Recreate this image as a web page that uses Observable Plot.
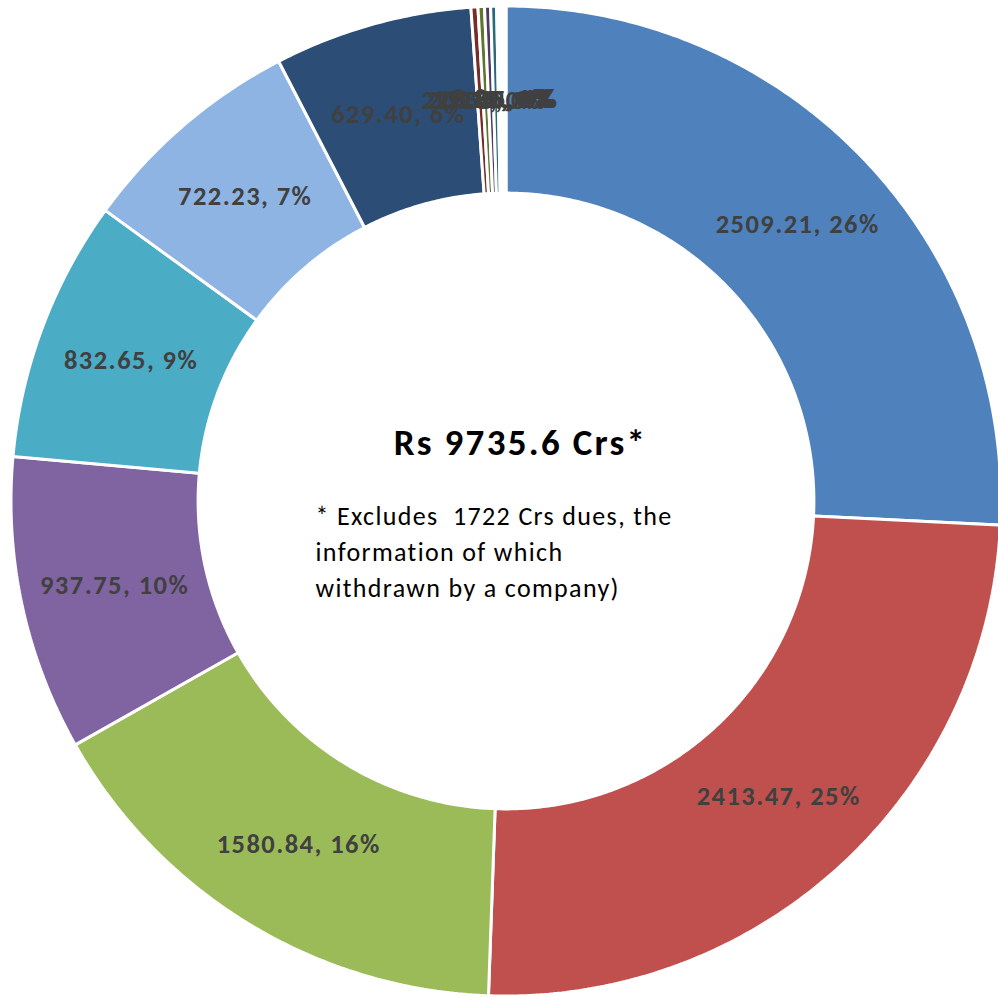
<!DOCTYPE html>
<html><head><meta charset="utf-8">
<script src="https://cdn.jsdelivr.net/npm/d3@7"></script>
<script src="https://cdn.jsdelivr.net/npm/@observablehq/plot@0.6"></script>
<style>body{margin:0;background:#fff;overflow:hidden}</style>
</head><body><div id="chart"></div>
<script>
const categories = ["S1","S2","S3","S4","S5","S6","S7","S8","S9","S10","S11","S12","S13","S14","S15"];
const values = [2509.21, 2413.47, 1580.84, 937.75, 832.65, 722.23, 629.40, 22.10, 20.55, 19.15, 18.90, 9.12, 7.85, 6.93, 5.45];
const colors = ["#4F81BD","#C0504D","#9BBB59","#8064A2","#4BACC6","#8EB4E3","#2C4D75","#772C2A","#5F7530","#4D3B62","#276A7C","#B65708","#729ACA","#CE8E8D","#B5CA92"];
const totalLabel = "Rs 9735.6 Crs*";
const noteLines = ["* Excludes  1722 Crs dues, the", "information of which", "withdrawn by a company)"];

const FONT = "Carlito, Calibri, Lato, 'Open Sans', sans-serif";
const R_OUT = 1, R_IN = 0.622, R_LAB = (R_OUT + R_IN) / 2;
const total = d3.sum(values);
const arcs = d3.pie().sort(null).value(d => d)(values);

function ring(a0, a1) {
  const n = Math.max(2, Math.ceil((a1 - a0) / (Math.PI / 360)));
  const pts = [];
  for (let i = 0; i <= n; i++) { const a = a0 + (a1 - a0) * i / n; pts.push({x: R_OUT * Math.sin(a), y: R_OUT * Math.cos(a)}); }
  for (let i = n; i >= 0; i--) { const a = a0 + (a1 - a0) * i / n; pts.push({x: R_IN * Math.sin(a), y: R_IN * Math.cos(a)}); }
  return pts;
}

const sliceMarks = arcs.map((a, i) => Plot.line(ring(a.startAngle, a.endAngle), {
  x: "x", y: "y", fill: colors[i], stroke: "white", strokeWidth: 3, curve: "linear-closed", strokeLinejoin: "miter"
}));

const labels = arcs.map((a, i) => {
  const m = (a.startAngle + a.endAngle) / 2;
  return {name: categories[i], x: R_LAB * Math.sin(m), y: R_LAB * Math.cos(m),
    text: values[i].toFixed(2) + ", " + Math.round(values[i] / total * 100) + "%"};
});

const chart = Plot.plot({
  width: 998, height: 997,
  margin: 0,
  x: {domain: [-505.5/495, 492.5/495], axis: null},
  y: {domain: [-496.5/495, 500.5/495], axis: null},
  style: {background: "white"},
  marks: [
    ...sliceMarks,
    Plot.text(labels, {x: "x", y: "y", text: "text", fill: "#404040", fontWeight: "bold", fontSize: 26.5, fontFamily: FONT, dx: 1}),
    Plot.text([totalLabel], {frameAnchor: "middle", dx: 21, dy: -55.5, fontSize: 37, fontWeight: "bold", fill: "#000", fontFamily: FONT}),
    Plot.text([noteLines.join("\n")], {frameAnchor: "middle", dx: -184, dy: 0.5, textAnchor: "start", lineAnchor: "top", lineHeight: 36/26, fontSize: 26, fill: "#000", fontFamily: FONT})
  ]
});
const spacing = {"26.5": "1.45px", "37": "2.3px", "26": "1.35px"};
chart.querySelectorAll("text").forEach(t => {
  const g = t.closest("[font-size]");
  if (!g) return;
  const s = spacing[String(parseFloat(g.getAttribute("font-size")))];
  if (s) t.style.letterSpacing = s;
});
document.getElementById("chart").appendChild(chart);
</script>
</body></html>
